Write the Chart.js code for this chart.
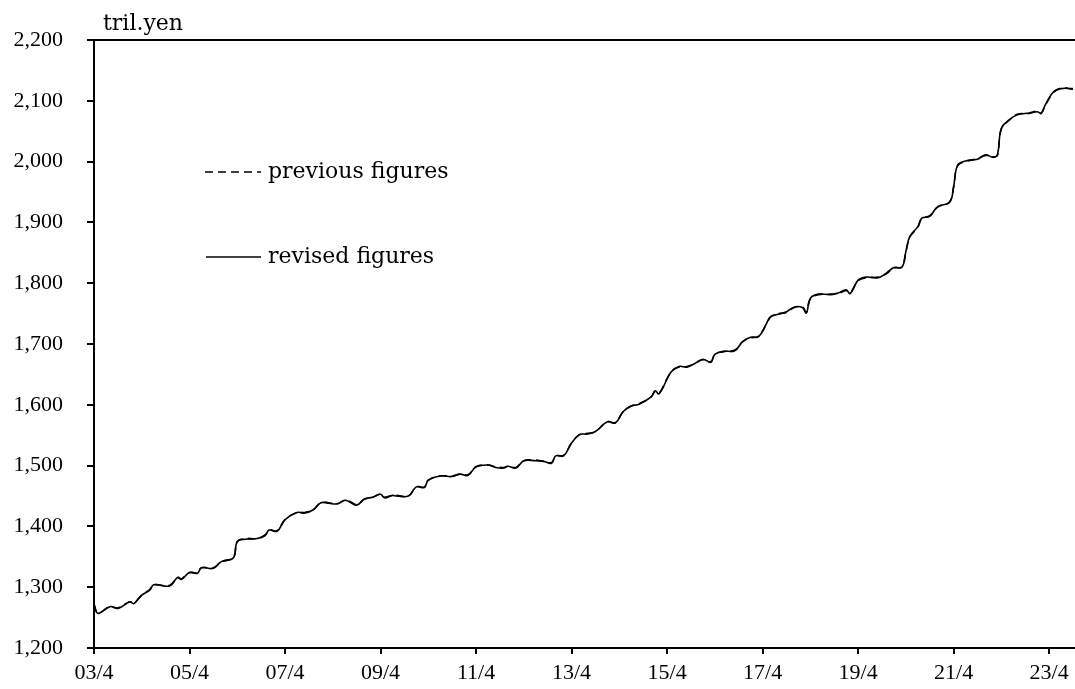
<!DOCTYPE html>
<html>
<head>
<meta charset="utf-8">
<script src="https://cdn.jsdelivr.net/npm/chart.js@4.4.1/dist/chart.umd.min.js"></script>
<style>
html,body{margin:0;padding:0;background:#fff;}
canvas{display:block;}
</style>
</head>
<body>
<canvas id="c" width="1075" height="689"></canvas>
<script>
// months since 2003/4
const months = [0,1,4,6,9,10,12,14,15,19,21,22,24,26,27,30,32,35,36,38,41,
  43,44,46,48,51,53,55,57,59,61,63,64,66,68,70,72,73,75,76,79,81,83,84,
  87,90,92,94,96,99,101,103,104,106,108,111,113,115,116,118,120,122,124,126,
  129,131,133,135,137,140,141,142,145,147,149,151,153,155,156,158,161,163,165,167,
  169,170,172,174,176,178,179,180,182,185,187,189,190,192,194,197,199,201,203,204,205,207,208,
  210,212,215,216,217,219,222,224,226,227,228,230,232,235,237,238,239,241,243,246];
const revised = [1272,1257,1268,1265,1276,1273,1287,1295,1304,1302,1316,1313,1324,1323,1332,1331,1342,1348,1375,1379,1380,
  1385,1394,1392,1411,1423,1422,1427,1439,1438,1437,1443,1441,1435,1445,1448,1453,1447,1451,1450,1450,1465,1464,1476,
  1483,1482,1486,1484,1498,1501,1497,1496,1499,1496,1508,1508,1507,1504,1516,1516,1537,1551,1552,1556,
  1572,1570,1589,1598,1601,1613,1623,1618,1654,1663,1662,1668,1675,1670,1683,1688,1689,1704,1711,1712,
  1734,1745,1749,1753,1761,1760,1751,1775,1782,1781,1784,1789,1783,1805,1810,1809,1816,1826,1826,1852,1877,1893,1907,
  1910,1926,1933,1959,1994,2001,2004,2011,2007,2011,2055,2069,2077,2080,2082,2080,2093,2114,2120,2120];
const previous = [1272,1258,1268,1266,1276,1274,1287,1296,1304,1303,1316,1314,1324,1324,1332,1332,1342,1349,1375,1380,1380,
  1386,1394,1393,1411,1423,1423,1427,1439,1439,1437,1443,1442,1436,1445,1448,1453,1448,1451,1451,1450,1465,1465,1476,
  1483,1483,1486,1485,1498,1501,1498,1497,1499,1497,1508,1509,1507,1505,1516,1517,1537,1551,1553,1556,
  1572,1571,1589,1598,1602,1613,1622,1619,1654,1662,1663,1668,1674,1671,1683,1687,1690,1704,1710,1713,
  1733,1744,1750,1752,1760,1761,1752,1774,1781,1782,1783,1788,1784,1804,1809,1810,1815,1825,1827,1851,1876,1892,1906,
  1911,1925,1934,1958,1993,2000,2005,2010,2008,2010,2054,2068,2078,2079,2083,2079,2092,2113,2121,2119];
const xTickLabels = ["03/4","05/4","07/4","09/4","11/4","13/4","15/4","17/4","19/4","21/4","23/4"];
const yTickValues = [1200,1300,1400,1500,1600,1700,1800,1900,2000,2100,2200];
const unitLabel = "tril.yen";
const seriesNames = ["previous figures","revised figures"];

const toPts = (arr) => arr.map((v, i) => ({x: months[i], y: v}));

const tickFont = {family: "Liberation Serif", size: 22};
const textFont = "22px 'DejaVu Serif', serif";

const extras = {
  id: 'extras',
  afterDraw(chart) {
    const {ctx, chartArea} = chart;
    ctx.save();
    ctx.strokeStyle = '#000';
    ctx.lineWidth = 2;
    ctx.beginPath();
    ctx.moveTo(chartArea.left, chartArea.top);
    ctx.lineTo(chartArea.right, chartArea.top);
    ctx.stroke();
    ctx.fillStyle = '#000';
    ctx.font = textFont;
    ctx.textBaseline = 'alphabetic';
    ctx.textAlign = 'left';
    ctx.fillText(unitLabel, 103, 30);
    ctx.lineWidth = 1.6;
    ctx.setLineDash([8, 5]);
    ctx.beginPath();
    ctx.moveTo(205, 172);
    ctx.lineTo(261, 172);
    ctx.stroke();
    ctx.setLineDash([]);
    ctx.lineWidth = 1.4;
    ctx.beginPath();
    ctx.moveTo(206, 257);
    ctx.lineTo(261, 257);
    ctx.stroke();
    ctx.textBaseline = 'middle';
    ctx.fillText(seriesNames[0], 268, 172);
    ctx.fillText(seriesNames[1], 268, 257);
    ctx.restore();
  }
};

new Chart(document.getElementById('c'), {
  type: 'line',
  data: {
    datasets: [
      {label: seriesNames[1], data: toPts(revised), borderColor: '#000', borderWidth: 1.6,
       pointRadius: 0, tension: 0.4, fill: false},
      {label: seriesNames[0], data: toPts(previous), borderColor: '#000', borderWidth: 1.6,
       borderDash: [8, 5], pointRadius: 0, tension: 0.4, fill: false}
    ]
  },
  options: {
    responsive: false,
    animation: false,
    devicePixelRatio: 1,
    layout: {padding: {top: 40, right: 0, left: 0, bottom: 0}},
    plugins: {legend: {display: false}, tooltip: {enabled: false}},
    scales: {
      x: {
        type: 'linear',
        min: 0,
        max: 246.5,
        afterFit(scale) { scale.height = 41; },
        afterBuildTicks(scale) {
          scale.ticks = xTickLabels.map((_, i) => ({value: i * 24}));
        },
        ticks: {
          autoSkip: false,
          maxRotation: 0,
          includeBounds: false,
          padding: 6,
          color: '#000',
          font: tickFont,
          callback: (v) => xTickLabels[Math.round(v / 24)] ?? ''
        },
        grid: {display: true, drawOnChartArea: false, drawTicks: true, tickLength: 6, color: '#000', lineWidth: 2},
        border: {display: true, color: '#000', width: 2}
      },
      y: {
        min: 1200,
        max: 2200,
        afterFit(scale) { scale.width = 94; },
        afterBuildTicks(scale) {
          scale.ticks = yTickValues.map(v => ({value: v}));
        },
        ticks: {
          padding: 24,
          crossAlign: 'near',
          color: '#000',
          font: tickFont,
          callback: (v) => v.toLocaleString('en-US')
        },
        grid: {display: true, drawOnChartArea: false, drawTicks: true, tickLength: 7, color: '#000', lineWidth: 2},
        border: {display: true, color: '#000', width: 2}
      }
    }
  },
  plugins: [extras]
});
</script>
</body>
</html>
